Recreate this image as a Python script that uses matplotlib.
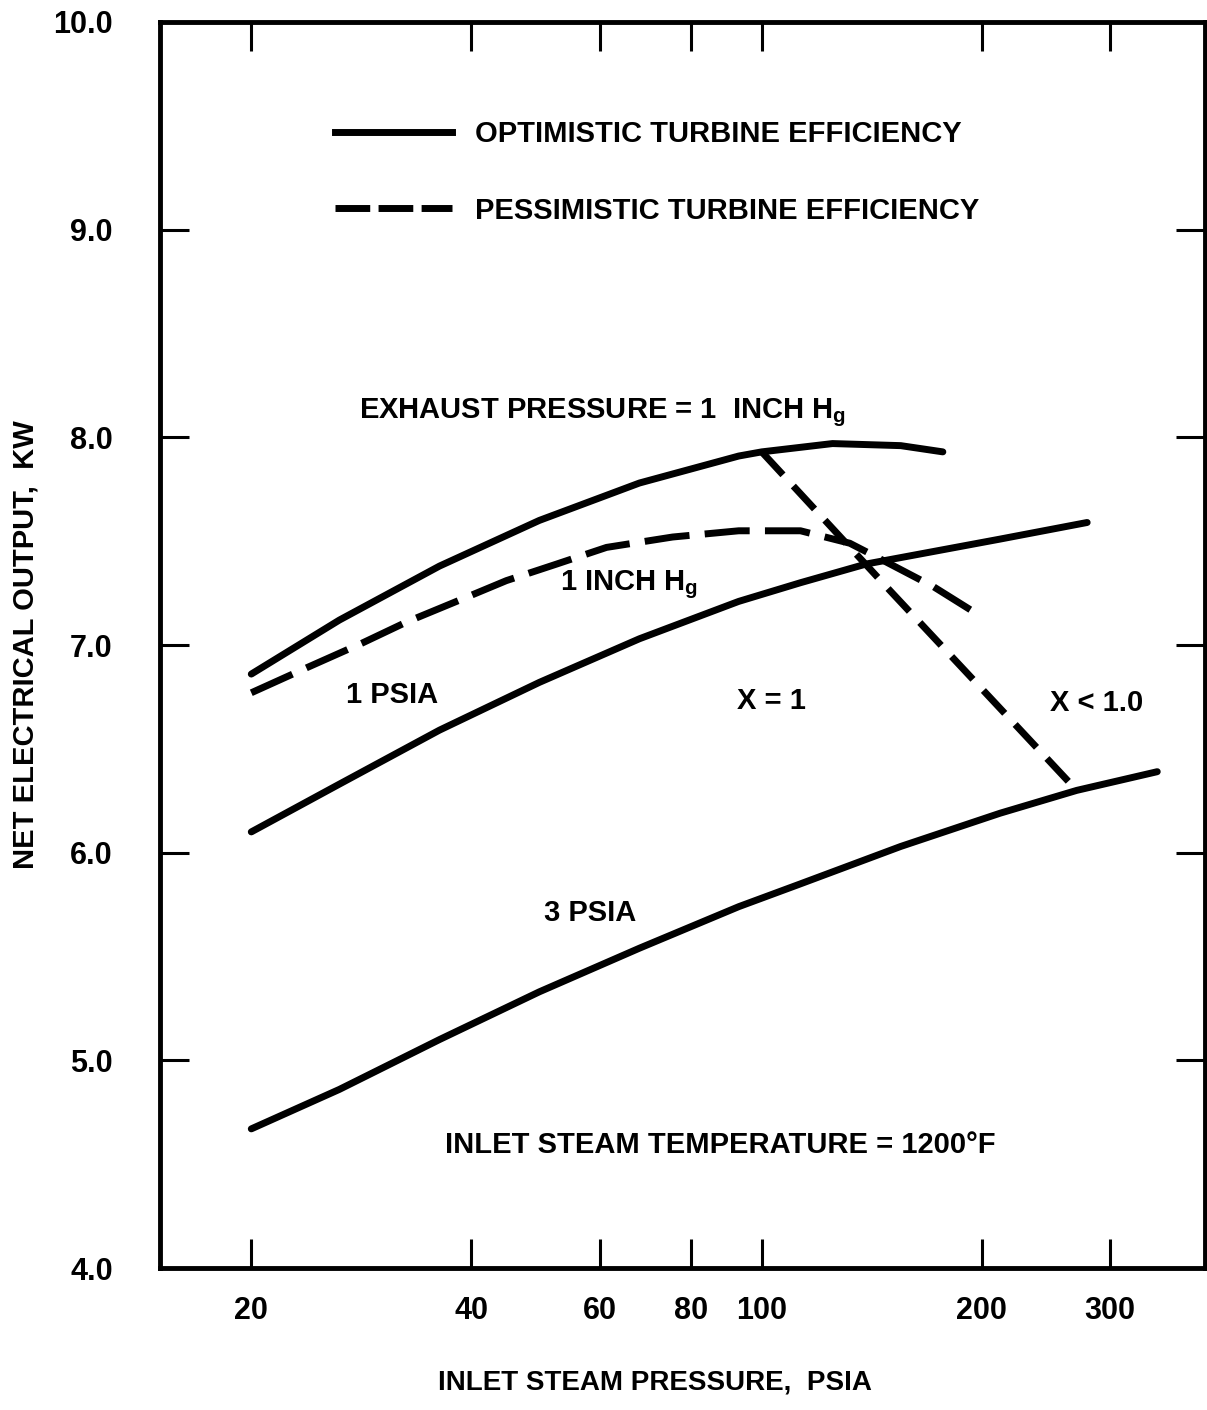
#!/usr/bin/env python3
# Net electrical output vs inlet steam pressure (scanned report chart)

import matplotlib
matplotlib.use('Agg')
import matplotlib.pyplot as plt
from matplotlib.lines import Line2D


# Curves: inlet pressure (psia) and output (kW)
opt_1inhg_p = [20, 26.4, 36.2, 49.6, 68, 93, 100, 125, 155, 177]
opt_1inhg_kw = [6.86, 7.12, 7.38, 7.60, 7.78, 7.91, 7.93, 7.97, 7.96, 7.93]

pess_1inhg_p = [20, 23.8, 28.4, 32.6, 38.2, 44.7, 52.4, 61.3, 75.5, 93, 113,
                132, 148, 172, 193]
pess_1inhg_kw = [6.77, 6.89, 7.01, 7.11, 7.21, 7.31, 7.39, 7.47, 7.52, 7.55,
                 7.55, 7.49, 7.40, 7.28, 7.17]

opt_1psia_p = [20, 26.4, 36.2, 49.6, 68, 93, 113, 139, 212, 279]
opt_1psia_kw = [6.10, 6.33, 6.59, 6.82, 7.03, 7.21, 7.30, 7.39, 7.51, 7.59]

opt_3psia_p = [20, 26.4, 36.2, 49.6, 68, 93, 113, 155, 212, 270, 348]
opt_3psia_kw = [4.67, 4.86, 5.10, 5.33, 5.54, 5.74, 5.85, 6.03, 6.19, 6.30, 6.39]

# x = 1 boundary (dashed)
sat_line_p = [100, 150, 270]
sat_line_kw = [7.93, 7.26, 6.30]

x_ticks = [20, 40, 60, 80, 100, 200, 300]
y_ticks = [4.0, 5.0, 6.0, 7.0, 8.0, 9.0, 10.0]

plt.rcParams['font.family'] = ['Liberation Sans', 'DejaVu Sans']
plt.rcParams['font.weight'] = 'bold'
plt.rcParams['axes.labelweight'] = 'bold'
plt.rcParams['mathtext.fontset'] = 'custom'
plt.rcParams['mathtext.rm'] = 'Liberation Sans:bold'


def main():
    fig = plt.figure(figsize=(12.07, 14.10), dpi=100)
    ax = fig.add_axes([0.1326, 0.1007, 0.8654, 0.8837])

    lw = 5
    ax.plot(opt_1inhg_p, opt_1inhg_kw, color='black', lw=lw,
            solid_capstyle='round', solid_joinstyle='round')
    ax.plot(pess_1inhg_p, pess_1inhg_kw, color='black', lw=lw,
            linestyle=(0, (6.5, 2.2)), dash_joinstyle='round')
    ax.plot(opt_1psia_p, opt_1psia_kw, color='black', lw=lw,
            solid_capstyle='round', solid_joinstyle='round')
    ax.plot(opt_3psia_p, opt_3psia_kw, color='black', lw=lw,
            solid_capstyle='round', solid_joinstyle='round')
    ax.plot(sat_line_p, sat_line_kw, color='black', lw=lw,
            linestyle=(0, (4.5, 2.2)))

    ax.set_xscale('log')
    ax.set_xlim(15, 404)
    ax.set_ylim(4.0, 10.0)
    ax.set_xticks(x_ticks)
    ax.set_xticklabels([str(t) for t in x_ticks])
    ax.xaxis.set_minor_locator(matplotlib.ticker.NullLocator())
    ax.set_yticks(y_ticks)
    ax.set_yticklabels(['%.1f' % t for t in y_ticks])

    for s in ax.spines.values():
        s.set_linewidth(3.5)
    ax.tick_params(axis='both', direction='in', length=21, width=2.2,
                   top=True, right=True, labelsize=22)
    ax.tick_params(axis='y', pad=34)
    ax.tick_params(axis='x', pad=20)

    ax.set_xlabel('INLET STEAM PRESSURE,  PSIA', fontsize=20,
                  fontweight='bold')
    ax.xaxis.set_label_coords(0.474, -0.092)
    ax.xaxis.label.set_va('center')
    ax.set_ylabel('NET ELECTRICAL OUTPUT,  KW', fontsize=21,
                  fontweight='bold')
    ax.yaxis.set_label_coords(-0.129, 0.5)
    ax.yaxis.label.set_va('center')

    # Annotations
    txt = dict(fontsize=21, color='black', va='center', ha='left')
    ax.text(28.1, 8.12, r'EXHAUST PRESSURE = 1  INCH H$_\mathrm{g}$', **txt)
    ax.text(52.9, 7.29, r'1 INCH H$_\mathrm{g}$', **txt)
    ax.text(27.0, 6.76, '1 PSIA', **txt)
    ax.text(92.4, 6.73, 'X = 1', **txt)
    ax.text(248, 6.72, 'X < 1.0', **txt)
    ax.text(50.4, 5.71, '3 PSIA', **txt)
    ax.text(36.8, 4.59, 'INLET STEAM TEMPERATURE = 1200\u00b0F', **txt)

    handles = [Line2D([], [], color='black', lw=lw),
               Line2D([], [], color='black', lw=lw, linestyle=(0, (5.0, 1.2)))]
    ax.legend(handles, ['OPTIMISTIC TURBINE EFFICIENCY',
                        'PESSIMISTIC TURBINE EFFICIENCY'],
              loc='upper left', bbox_to_anchor=(0.1675, 0.921),
              frameon=False, fontsize=21, handlelength=4.0,
              handletextpad=0.8, labelspacing=1.65, borderpad=0,
              borderaxespad=0)

    fig.savefig('out.png', dpi=100)


if __name__ == '__main__':
    main()
